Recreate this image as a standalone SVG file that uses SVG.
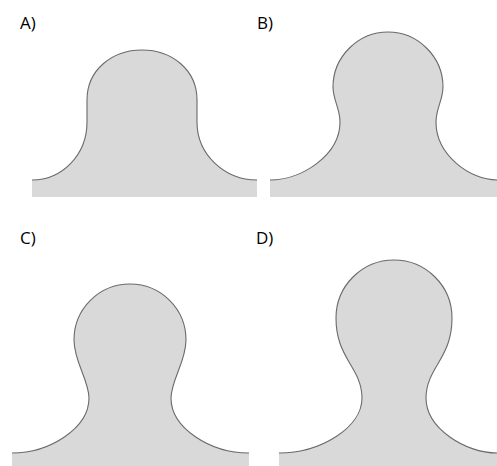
<svg xmlns="http://www.w3.org/2000/svg" width="497" height="466" viewBox="0 0 497 466">
<style>
.fill{fill:#d9d9d9;stroke:none}
.edge{fill:none;stroke:#6a6a6a;stroke-width:1.1}
.lbl{font-family:"Open Sans","Liberation Sans",sans-serif;font-size:17px;fill:#000}
</style>
<rect width="497" height="466" fill="#fff"/>
<g id="panelA">
<path class="fill" d="M32,180 C62,180 87,155 87,122 C87,112 87,106 87,100 C87,70 112,50 142,50 C172,50 197,70 197,100 C197,106 197,112 197,122 C197,155 225,180 257,180 L257,197 L32,197 Z"/>
<path class="edge" d="M32,180 C62,180 87,155 87,122 C87,112 87,106 87,100 C87,70 112,50 142,50 C172,50 197,70 197,100 C197,106 197,112 197,122 C197,155 225,180 257,180"/>
<text class="lbl" x="20" y="29">A)</text>
</g>
<g id="panelB">
<path class="fill" d="M270,180 C302,180 340,155 340,122 C340,108 333,100 333,87 C333,57 358,32 388,32 C418,32 443,57 443,87 C443,100 436,108 436,122 C436,155 470,180 497,180 L497,197 L270,197 Z"/>
<path class="edge" d="M270,180 C302,180 340,155 340,122 C340,108 333,100 333,87 C333,57 358,32 388,32 C418,32 443,57 443,87 C443,100 436,108 436,122 C436,155 470,180 497,180"/>
<text class="lbl" x="257" y="29">B)</text>
</g>
<g id="panelC">
<path class="fill" d="M12,453 C50,453 89,428 89,398 C89,380 74,362 74,340 C74,309 99,284 130,284 C161,284 186,309 186,340 C186,362 171,380 171,398 C171,428 210,453 249,453 L249,466 L12,466 Z"/>
<path class="edge" d="M12,453 C50,453 89,428 89,398 C89,380 74,362 74,340 C74,309 99,284 130,284 C161,284 186,309 186,340 C186,362 171,380 171,398 C171,428 210,453 249,453"/>
<text class="lbl" x="20" y="244">C)</text>
</g>
<g id="panelD">
<path class="fill" d="M279,453 C320,453 362,428 362,398 C362,383 355,372 349,362 C342,350 336,338 336,318 C336,286 362,260 394,260 C426,260 452,286 452,318 C452,338 446,350 439,362 C433,372 426,383 426,398 C426,428 465,453 497,453 L497,466 L279,466 Z"/>
<path class="edge" d="M279,453 C320,453 362,428 362,398 C362,383 355,372 349,362 C342,350 336,338 336,318 C336,286 362,260 394,260 C426,260 452,286 452,318 C452,338 446,350 439,362 C433,372 426,383 426,398 C426,428 465,453 497,453"/>
<text class="lbl" x="256" y="244">D)</text>
</g>
</svg>
